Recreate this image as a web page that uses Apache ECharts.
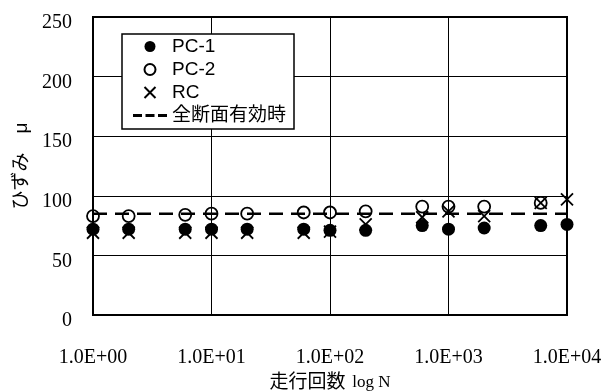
<!DOCTYPE html>
<html><head><meta charset="utf-8">
<script src="https://cdn.jsdelivr.net/npm/echarts@6/dist/echarts.min.js"></script>
<style>html,body{margin:0;padding:0;background:#fff}#c{width:604px;height:391px}</style>
</head><body><div id="c"></div>
<script>
const cycles = [1, 2, 6, 10, 20, 60, 100, 200, 600, 1000, 2000, 6000, 10000];
const pc1 = [72, 72, 72, 72, 72, 72, 71, 71, 75, 72, 73, 75, 76];
const pc2 = [83, 83, 84, 85, 85, 86, 86, 87, 91, 91, 91, 94, null];
const rc = [69, 69, 69, 69, 69, 69, 70, 76, 82, 87, 83, 94, 97];
const fullSectionN = [1, 10000];
const fullSection = [85, 85];
const xTickLabels = ['1.0E+00', '1.0E+01', '1.0E+02', '1.0E+03', '1.0E+04'];
const seriesNames = ['PC-1', 'PC-2', 'RC', '全断面有効時'];

const pairs = (xs, ys) => xs.map((x, i) => [x, ys[i]]).filter(p => p[1] != null);
const serif = "'Liberation Serif','Times New Roman',serif";
const sans = "'Liberation Sans','Noto Sans CJK JP',sans-serif";
const crossPath = 'path://M0,0L10,10M10,0L0,10';
const dashIcon = 'path://M0,0H9V3H0Z M12.5,0H21.5V3H12.5Z M25,0H34V3H25Z';

const chart = echarts.init(document.getElementById('c'), null, {renderer: 'canvas'});
chart.setOption({
  animation: false,
  backgroundColor: '#fff',
  grid: {left: 93, right: 37, top: 17, bottom: 76, outerBoundsMode: 'none', containLabel: false,
    show: true, borderColor: '#000', borderWidth: 2, backgroundColor: 'transparent'},
  legend: {
    orient: 'vertical', left: 122, top: 34,
    backgroundColor: '#fff', borderColor: '#000', borderWidth: 1.5,
    padding: [3, 8, 4, 11], itemGap: 4, itemWidth: 34, itemHeight: 11,
    textStyle: {fontFamily: sans, fontSize: 19, color: '#000', lineHeight: 18},
    data: [
      {name: seriesNames[0]},
      {name: seriesNames[1]},
      {name: seriesNames[2]},
      {name: seriesNames[3], icon: dashIcon, itemStyle: {color: '#000', opacity: 1}}
    ]
  },
  xAxis: {
    type: 'log', logBase: 10, min: 1, max: 10000,
    axisLine: {show: true, lineStyle: {color: '#000', width: 2}},
    axisTick: {show: false},
    splitLine: {show: true, lineStyle: {color: '#000', width: 1}},
    axisLabel: {color: '#000', fontFamily: serif, fontSize: 20, margin: 33,
      formatter: v => xTickLabels[Math.round(Math.log10(v))]},
    name: '{a|走行回数}  {b|log N}', nameLocation: 'middle', nameGap: 57,
    nameTextStyle: {rich: {
      a: {fontFamily: sans, fontSize: 19, color: '#000'},
      b: {fontFamily: serif, fontSize: 17, color: '#000'}
    }}
  },
  yAxis: {
    type: 'value', min: 0, max: 250, interval: 50,
    axisLine: {show: true, lineStyle: {color: '#000', width: 2}},
    axisTick: {show: false},
    splitLine: {show: true, lineStyle: {color: '#000', width: 1}},
    axisLabel: {color: '#000', margin: 21,
      formatter: v => '{v|' + v + '}',
      rich: {v: {fontFamily: serif, fontSize: 20, color: '#000', padding: [12, 0, 0, 0]}}},
    name: 'ひずみ　μ', nameLocation: 'middle', nameGap: 58, nameRotate: 90,
    nameTextStyle: {fontFamily: sans, fontSize: 19, color: '#000'}
  },
  series: [
    {name: seriesNames[0], type: 'scatter', data: pairs(cycles, pc1), symbol: 'circle', symbolSize: 13,
     itemStyle: {color: '#000', opacity: 1}, z: 3},
    {name: seriesNames[1], type: 'scatter', data: pairs(cycles, pc2), symbol: 'circle', symbolSize: 12,
     itemStyle: {color: 'rgba(255,255,255,0)', borderColor: '#000', borderWidth: 1.8, opacity: 1}, z: 4},
    {name: seriesNames[2], type: 'scatter', data: pairs(cycles, rc), symbol: crossPath, symbolSize: 12,
     itemStyle: {color: 'rgba(0,0,0,0)', borderColor: '#000', borderWidth: 1.8, opacity: 1}, z: 4},
    {name: seriesNames[3], type: 'line', data: pairs(fullSectionN, fullSection), symbol: 'none',
     lineStyle: {color: '#000', width: 2.5, type: [14, 8]}, itemStyle: {color: '#000'}, z: 5}
  ]
});
</script></body></html>
